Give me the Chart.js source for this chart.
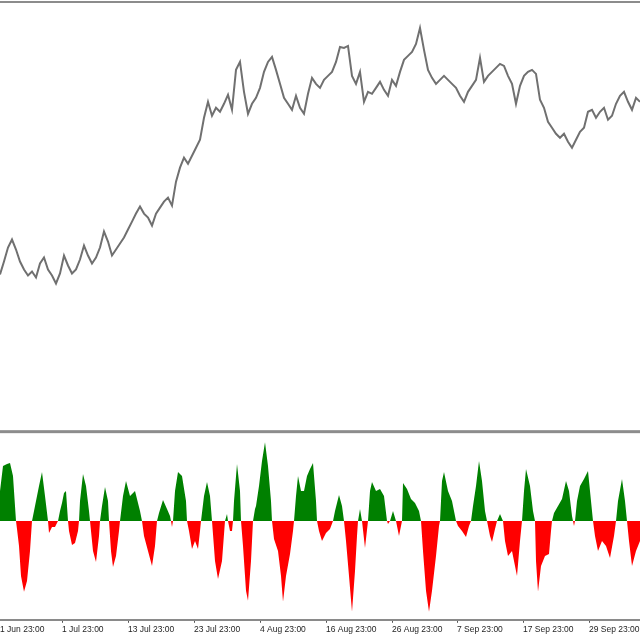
<!DOCTYPE html>
<html>
<head>
<meta charset="utf-8">
<script src="https://cdn.jsdelivr.net/npm/chart.js@4/dist/chart.umd.min.js"></script>
<style>
  html, body { margin: 0; padding: 0; background: #fff; }
  #chart { display: block; }
</style>
</head>
<body>
<canvas id="chart" width="640" height="640"></canvas>
<script>
// price closes, one sample every 4 bars, starting at bar 0
var priceStep = 4;
var priceValues = [
    155, 168, 182, 190, 180, 168, 160, 154, 158, 152,
    166, 172, 160, 154, 146, 156, 174, 164, 156, 160,
    170, 184, 174, 166, 172, 182, 198, 188, 174, 180,
    186, 192, 200, 208, 216, 223, 216, 212, 204, 216,
    222, 228, 232, 224, 248, 262, 272, 266, 274, 282,
    290, 312, 328, 314, 322, 318, 326, 335, 320, 360,
    368, 338, 316, 326, 332, 342, 358, 368, 373, 360,
    346, 332, 326, 320, 334, 322, 316, 336, 352, 346,
    342, 350, 354, 358, 368, 383, 382, 384, 354, 346,
    358, 328, 338, 336, 342, 348, 340, 334, 350, 344,
    358, 370, 374, 378, 386, 402, 380, 360, 352, 346,
    350, 354, 350, 346, 342, 334, 328, 338, 344, 350,
    372, 348, 354, 358, 362, 366, 364, 354, 346, 326,
    344, 354, 358, 360, 356, 330, 322, 308, 302, 296,
    292, 296, 288, 282, 290, 298, 302, 318, 320, 312,
    318, 322, 310, 314, 326, 334, 338, 328, 320, 332,
    328
];

// oscillator histogram: [bar, value]
var oscSamples = [
    [0, 30], [3, 55], [7, 57], [10, 58], [13, 45], [16, 0],
    [17, -8], [19, -25], [21, -55], [24, -71], [27, -60], [30, -30], [32, 0],
    [33, 5], [36, 20], [39, 35], [42, 49], [45, 25], [48, 0],
    [49, -12], [52, -6], [55, -6], [58, 0],
    [60, 10], [62, 18], [64, 28], [66, 30], [68, 0],
    [69, -10], [72, -24], [75, -22], [78, -10], [79, 0],
    [80, 20], [83, 47], [86, 35], [89, 10], [90, 0],
    [93, -30], [96, -41], [99, -15], [100, 0],
    [102, 15], [105, 34], [108, 20], [109, 0],
    [111, -30], [113, -46], [116, -35], [119, -10], [120, 0],
    [123, 25], [126, 40], [130, 25], [135, 30], [140, 10], [142, 0],
    [144, -15], [148, -30], [152, -45], [155, -25], [157, 0],
    [159, 8], [163, 21], [167, 12], [170, 5], [171, 0],
    [172, -6], [173, 0],
    [175, 30], [178, 49], [182, 45], [186, 20], [187, 0],
    [189, -10], [192, -28], [195, -20], [198, -28], [200, -10], [201, 0],
    [204, 25], [207, 39], [210, 25], [212, 0],
    [215, -40], [218, -58], [222, -40], [225, 0],
    [227, 7], [228, 0],
    [230, -10], [232, -10], [233, 0],
    [234, 20], [237, 57], [240, 30], [241, 0],
    [243, -25], [246, -70], [248, -80], [251, -40], [253, 0],
    [255, 12], [256, 15], [259, 35], [262, 60], [265, 79], [268, 55], [271, 20], [272, 0],
    [274, -18], [278, -30], [281, -55], [283, -81], [286, -55], [290, -33], [293, -10], [294, 0],
    [296, 25], [298, 45], [301, 30], [304, 30], [307, 45], [310, 52], [313, 58], [316, 20], [317, 0],
    [319, -10], [322, -20], [326, -12], [330, -8], [333, 0],
    [335, 10], [339, 26], [342, 15], [344, 0],
    [346, -20], [349, -55], [352, -91], [355, -50], [357, -15], [358, 0],
    [360, 12], [362, 0],
    [365, -27], [368, 0],
    [370, 30], [372, 39], [376, 30], [380, 32], [384, 25], [387, 0],
    [388, -3], [390, 0],
    [393, 10], [396, 0],
    [399, -15], [402, 0],
    [403, 38], [407, 32], [411, 22], [415, 18], [419, 10], [421, 0],
    [423, -30], [426, -70], [429, -91], [432, -70], [436, -35], [439, -5], [440, 0],
    [442, 40], [444, 49], [448, 30], [452, 20], [455, 5], [456, 0],
    [458, -5], [462, -10], [466, -16], [469, -5], [471, 0],
    [473, 15], [476, 35], [479, 60], [482, 40], [485, 10], [487, 0],
    [490, -15], [492, -21], [495, -8], [497, 0],
    [500, 7], [503, 0],
    [505, -20], [508, -35], [512, -30], [515, -45], [517, -55], [520, -20], [522, 0],
    [524, 30], [526, 52], [530, 35], [533, 10], [535, 0],
    [536, -40], [538, -71], [541, -45], [545, -35], [549, -33], [551, -10], [552, 0],
    [554, 8], [558, 15], [562, 22], [566, 40], [569, 30], [572, 5], [573, 0],
    [574, -5], [575, 0],
    [577, 20], [580, 35], [584, 42], [588, 50], [591, 20], [593, 0],
    [595, -15], [598, -30], [602, -20], [606, -25], [610, -37], [614, -15], [616, 0],
    [618, 20], [622, 42], [625, 20], [627, 0],
    [629, -20], [632, -45], [636, -30], [640, -20]
];

var tickBars = [0, 62, 128, 194, 260, 326, 392, 457, 523, 589];
var tickLabels = [
    "1 Jun 23:00", "1 Jul 23:00", "13 Jul 23:00", "23 Jul 23:00", "4 Aug 23:00",
    "16 Aug 23:00", "26 Aug 23:00", "7 Sep 23:00", "17 Sep 23:00", "29 Sep 23:00"
];

// both panels share one canvas: each y scale covers the whole height,
// ranges chosen so price sits in the upper window and the oscillator in the lower one
var priceMin = -191, priceMax = 427;
var oscMin = -99, oscMax = 519, oscTop = 90;

var panelLines = {
    id: "panelLines",
    afterDraw: function(chart) {
        var ctx = chart.ctx,
            area = chart.chartArea,
            sepY = chart.scales.osc.getPixelForValue(oscTop);
        ctx.save();
        ctx.fillStyle = "#8c8c8c";
        ctx.fillRect(area.left, area.top - 2, area.right - area.left, 2);
        ctx.fillRect(area.left, sepY - 1, area.right - area.left, 3);
        ctx.restore();
    }
};

new Chart(document.getElementById("chart"), {
    type: "line",
    data: {
        datasets: [
            {
                label: "Price",
                data: priceValues.map(function(v, i) { return {x: i * priceStep, y: v}; }),
                yAxisID: "price",
                borderColor: "#707070",
                borderWidth: 2,
                pointRadius: 0,
                tension: 0,
                fill: false
            },
            {
                label: "Oscillator",
                data: oscSamples.map(function(p) { return {x: p[0], y: p[1]}; }),
                yAxisID: "osc",
                borderWidth: 0,
                borderColor: "rgba(0,0,0,0)",
                pointRadius: 0,
                tension: 0,
                fill: {target: {value: 0}, above: "#008000", below: "#ff0000"}
            }
        ]
    },
    options: {
        responsive: false,
        animation: false,
        layout: {padding: {top: 3, bottom: 3, left: 0, right: 0}},
        plugins: {legend: {display: false}, tooltip: {enabled: false}},
        scales: {
            x: {
                type: "linear",
                min: 0,
                max: 640,
                afterBuildTicks: function(axis) {
                    axis.ticks = tickBars.map(function(b) { return {value: b}; });
                },
                afterFit: function(axis) {
                    axis.paddingLeft = 0;
                    axis.paddingRight = 0;
                },
                grid: {
                    display: true,
                    drawOnChartArea: false,
                    drawTicks: true,
                    tickLength: 3,
                    color: function(c) { return c.index === 0 ? "rgba(0,0,0,0)" : "#555"; }
                },
                border: {display: true, color: "#8a8a8a", width: 2},
                ticks: {
                    autoSkip: false,
                    maxRotation: 0,
                    align: "start",
                    padding: 2,
                    color: "#1e1e1e",
                    font: {family: "Liberation Sans", size: 8.5},
                    callback: function(v, i) { return tickLabels[i]; }
                }
            },
            price: {type: "linear", position: "left", display: false, min: priceMin, max: priceMax},
            osc: {type: "linear", position: "right", display: false, min: oscMin, max: oscMax}
        }
    },
    plugins: [panelLines]
});
</script>
</body>
</html>
